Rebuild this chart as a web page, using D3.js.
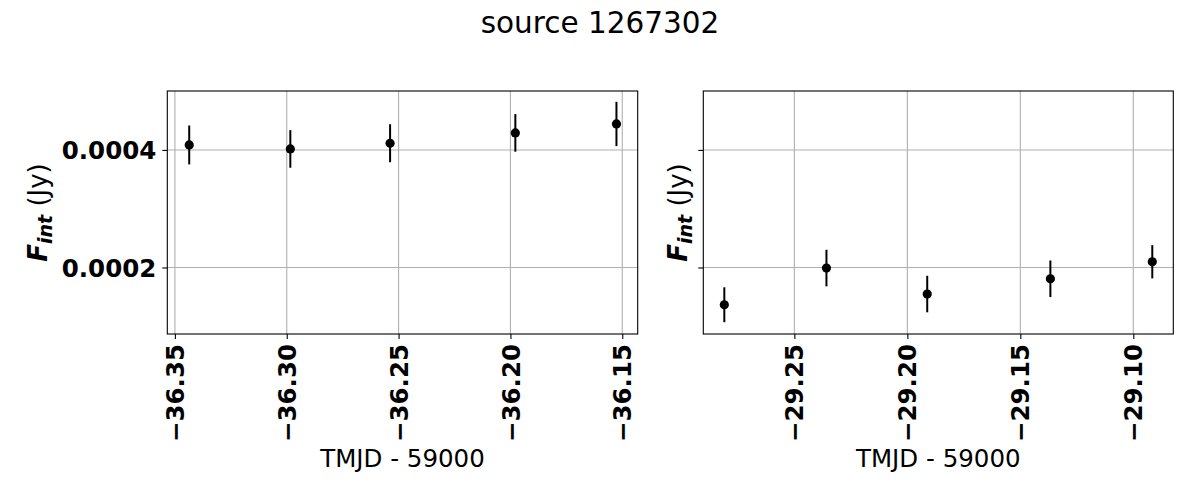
<!DOCTYPE html>
<html>
<head>
<meta charset="utf-8">
<script src="https://cdn.jsdelivr.net/npm/d3@7"></script>
<style>
  body { margin: 0; background: #fff; }
  text { font-family: "DejaVu Sans", sans-serif; }
</style>
</head>
<body>
<div id="chart"></div>
<script>
// data (TMJD - 59000, flux in Jy, 1-sigma error)
var leftT = [-36.3436, -36.2984, -36.2538, -36.1978, -36.1526];
var leftF = [0.0004085, 0.0004017, 0.0004114, 0.000429, 0.0004442];
var leftE = [0.0000331, 0.000032, 0.0000323, 0.000032, 0.0000377];
var leftTicks = [-36.35, -36.30, -36.25, -36.20, -36.15];

var rightT = [-29.281, -29.2358, -29.1912, -29.1367, -29.0916];
var rightF = [0.0001366, 0.000199, 0.0001548, 0.0001808, 0.0002097];
var rightE = [0.0000297, 0.0000311, 0.0000311, 0.0000311, 0.0000283];
var rightTicks = [-29.25, -29.20, -29.15, -29.10];

var yTicks = [0.0002, 0.0004];
var yDomain = [0.0000868, 0.0005003];

var W = 1200, H = 500;
var top_ = 91, bot = 334;

var svg = d3.select('#chart').append('svg')
  .attr('width', W).attr('height', H);

svg.append('text')
  .attr('x', 600).attr('y', 33)
  .attr('text-anchor', 'middle')
  .style('font-size', '29.5px')
  .text('source 1267302');

var y = d3.scaleLinear().domain(yDomain).range([bot, top_]);

var fmtX = function(d){ return d3.format('.2f')(d).replace('-', '\u2212'); };

var panel = function(x0, x1, xdom, ts, fs, es, xticks, showY){
  var x = d3.scaleLinear().domain(xdom).range([x0, x1]);
  var g = svg.append('g');

  // grid
  g.selectAll('.gx').data(xticks).enter().append('line')
    .attr('x1', function(d){ return x(d); }).attr('x2', function(d){ return x(d); })
    .attr('y1', top_).attr('y2', bot)
    .style('stroke', '#b0b0b0').style('stroke-width', 1.1);
  g.selectAll('.gy').data(yTicks).enter().append('line')
    .attr('x1', x0).attr('x2', x1)
    .attr('y1', function(d){ return y(d); }).attr('y2', function(d){ return y(d); })
    .style('stroke', '#b0b0b0').style('stroke-width', 1.1);

  // x axis
  var xa = g.append('g').attr('transform', 'translate(0,' + bot + ')')
    .call(d3.axisBottom(x).tickValues(xticks).tickSize(5).tickFormat(fmtX));
  xa.select('.domain').remove();
  xa.selectAll('line').style('stroke', '#000').style('stroke-width', 1.1);
  xa.selectAll('text')
    .attr('transform', 'rotate(-90)')
    .attr('x', -10).attr('y', 0).attr('dy', '0.35em')
    .attr('text-anchor', 'end')
    .style('font-family', '"DejaVu Sans", sans-serif')
    .style('font-size', '24.5px').style('font-weight', 'bold').style('fill', '#000');

  // y axis
  var ya = g.append('g').attr('transform', 'translate(' + x0 + ',0)')
    .call(d3.axisLeft(y).tickValues(yTicks).tickSize(5).tickFormat(showY ? d3.format('.4f') : ''));
  ya.select('.domain').remove();
  ya.selectAll('line').style('stroke', '#000').style('stroke-width', 1.1);
  ya.selectAll('text')
    .attr('x', -11).attr('dy', '0.36em')
    .style('font-family', '"DejaVu Sans", sans-serif')
    .style('font-size', '24.5px').style('font-weight', 'bold').style('fill', '#000');

  // frame
  g.append('rect')
    .attr('x', x0).attr('y', top_).attr('width', x1 - x0).attr('height', bot - top_)
    .style('fill', 'none').style('stroke', '#000').style('stroke-width', 1.1);

  // error bars + points
  var idx = d3.range(ts.length);
  g.selectAll('.eb').data(idx).enter().append('line')
    .attr('x1', function(i){ return x(ts[i]); }).attr('x2', function(i){ return x(ts[i]); })
    .attr('y1', function(i){ return y(fs[i] - es[i]); })
    .attr('y2', function(i){ return y(fs[i] + es[i]); })
    .style('stroke', '#000').style('stroke-width', 2);
  g.selectAll('.pt').data(idx).enter().append('circle')
    .attr('cx', function(i){ return x(ts[i]); })
    .attr('cy', function(i){ return y(fs[i]); })
    .attr('r', 4.6)
    .style('fill', '#000');

  // x label
  svg.append('text')
    .attr('x', (x0 + x1) / 2).attr('y', 467)
    .attr('text-anchor', 'middle')
    .style('font-size', '24.5px')
    .text('TMJD - 59000');

  // y label
  var lx = showY ? 47 : 687;
  var yl = svg.append('text')
    .attr('transform', 'translate(' + lx + ',' + ((top_ + bot) / 2) + ') rotate(-90)')
    .attr('text-anchor', 'middle')
    .style('font-size', '26px');
  yl.append('tspan').style('font-weight', 'bold').style('font-style', 'italic').text('F');
  yl.append('tspan').style('font-weight', 'bold').style('font-style', 'italic')
    .style('font-size', '19px').attr('dy', 5).text('int');
  yl.append('tspan').attr('dy', -5).text('\u00a0(Jy)');
};

panel(167.3, 637.7, [-36.3534, -36.1431], leftT, leftF, leftE, leftTicks, true);
panel(703.3, 1173.3, [-29.2903, -29.0823], rightT, rightF, rightE, rightTicks, false);
</script>
</body>
</html>
